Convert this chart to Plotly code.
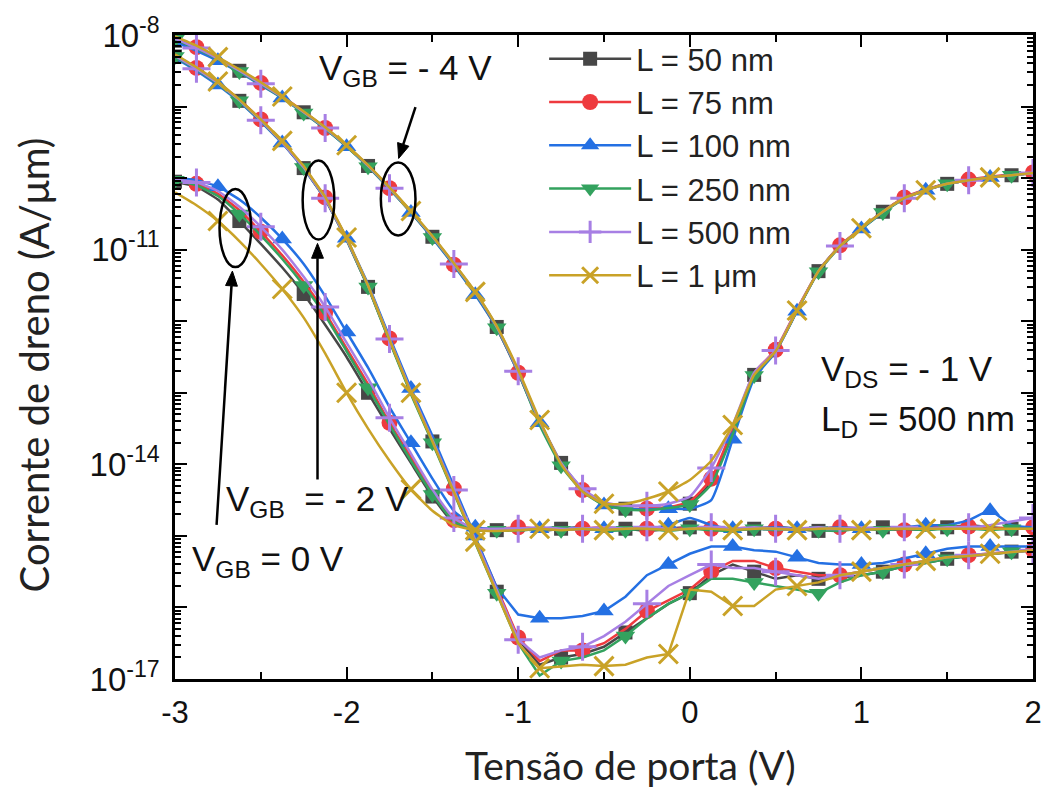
import math
import plotly.graph_objects as go

# ---------------- data (log10 of drain current, A/um) ----------------
X = [-3.0, -2.875, -2.75, -2.625, -2.5, -2.375, -2.25, -2.125, -2.0, -1.875, -1.75,
     -1.625, -1.5, -1.375, -1.25, -1.125, -1.0, -0.875, -0.75, -0.625, -0.5, -0.375,
     -0.25, -0.125, 0.0, 0.125, 0.25, 0.375, 0.5, 0.625, 0.75, 0.875, 1.0, 1.125,
     1.25, 1.375, 1.5, 1.625, 1.75, 1.875, 2.0]

LABELS = ["L = 50 nm", "L = 75 nm", "L = 100 nm", "L = 250 nm", "L = 500 nm", "L = 1 \u03bcm"]

# V_GB = -4 V
A_50 = [-8.08,-8.2,-8.34,-8.5,-8.68,-8.87,-9.08,-9.3,-9.55,-9.83,-10.14,-10.47,-10.82,-11.2,-11.6,-12.08,-12.7,
        -13.4,-13.98,-14.35,-14.55,-14.62,-14.63,-14.6,-14.55,-14.25,-13.55,
        -12.75,-12.42,-11.85,-11.3,-10.95,-10.7,-10.47,-10.28,-10.17,-10.08,-10.03,-9.99,-9.96,-9.93]
A_75 = [-8.03,-8.17,-8.32,-8.49,-8.67,-8.86,-9.07,-9.3,-9.55,-9.83,-10.14,-10.48,-10.83,-11.21,-11.62,-12.1,-12.72,
        -13.42,-14.0,-14.36,-14.56,-14.62,-14.62,-14.6,-14.52,-14.2,-13.5,
        -12.72,-12.4,-11.83,-11.3,-10.94,-10.7,-10.47,-10.27,-10.16,-10.07,-10.02,-9.98,-9.95,-9.92]
A_100 = [-8.1,-8.22,-8.36,-8.52,-8.7,-8.88,-9.09,-9.31,-9.56,-9.84,-10.15,-10.48,-10.84,-11.22,-11.63,-12.1,-12.72,
         -13.42,-14.0,-14.37,-14.57,-14.62,-14.63,-14.62,-14.62,-14.5,-13.65,
         -12.8,-12.43,-11.86,-11.3,-10.95,-10.71,-10.48,-10.28,-10.17,-10.08,-10.03,-9.99,-9.96,-9.93]
A_250 = [-8.06,-8.19,-8.34,-8.51,-8.69,-8.88,-9.09,-9.31,-9.56,-9.84,-10.15,-10.48,-10.83,-11.21,-11.61,-12.09,-12.71,
         -13.45,-14.02,-14.38,-14.57,-14.63,-14.64,-14.61,-14.56,-14.28,-13.58,
         -12.76,-12.42,-11.85,-11.31,-10.96,-10.71,-10.48,-10.29,-10.17,-10.08,-10.03,-9.99,-9.96,-9.93]
A_500 = [-8.05,-8.18,-8.33,-8.5,-8.68,-8.87,-9.08,-9.3,-9.55,-9.83,-10.14,-10.47,-10.82,-11.2,-11.6,-12.08,-12.7,
         -13.4,-13.98,-14.34,-14.53,-14.58,-14.58,-14.55,-14.45,-14.05,-13.45,
         -12.72,-12.41,-11.84,-11.3,-10.95,-10.7,-10.47,-10.28,-10.17,-10.08,-10.03,-9.99,-9.96,-9.93]
A_1um = [-8.02,-8.15,-8.31,-8.48,-8.66,-8.86,-9.07,-9.29,-9.54,-9.82,-10.13,-10.46,-10.81,-11.19,-11.59,-12.07,-12.68,
         -13.38,-14.0,-14.38,-14.55,-14.55,-14.48,-14.38,-14.22,-13.95,-13.45,
         -12.75,-12.42,-11.85,-11.3,-10.95,-10.7,-10.47,-10.28,-10.17,-10.08,-10.03,-9.99,-9.96,-9.93]

# V_GB = -2 V
B_50 = [-8.3,-8.48,-8.68,-8.92,-9.2,-9.5,-9.86,-10.29,-10.86,-11.52,-12.27,-13.0,-13.68,-14.38,-15.08,-15.78,-16.45,
        -16.8,-16.7,-16.65,-16.55,-16.35,-16.15,-15.95,-15.8,-15.55,-15.4,-15.5,-15.6,-15.55,-15.6,-15.58,-15.55,
        -15.5,-15.42,-15.38,-15.32,-15.28,-15.25,-15.22,-15.2]
B_75 = [-8.28,-8.46,-8.66,-8.9,-9.18,-9.49,-9.84,-10.27,-10.84,-11.5,-12.24,-12.97,-13.64,-14.34,-15.04,-15.74,-16.42,
        -16.75,-16.6,-16.6,-16.5,-16.3,-16.05,-15.9,-15.75,-15.5,-15.35,-15.35,-15.45,-15.5,-15.55,-15.55,-15.5,
        -15.45,-15.4,-15.35,-15.3,-15.27,-15.25,-15.22,-15.2]
B_100 = [-8.32,-8.5,-8.7,-8.93,-9.21,-9.51,-9.86,-10.28,-10.84,-11.48,-12.22,-12.94,-13.6,-14.3,-15.0,-15.72,-16.1,
         -16.15,-16.15,-16.12,-16.05,-15.85,-15.55,-15.4,-15.25,-15.15,-15.15,-15.2,-15.22,-15.3,-15.38,-15.4,-15.4,
         -15.38,-15.32,-15.25,-15.18,-15.15,-15.15,-15.15,-15.15]
B_250 = [-8.3,-8.48,-8.68,-8.92,-9.2,-9.5,-9.85,-10.28,-10.86,-11.52,-12.28,-13.02,-13.7,-14.4,-15.1,-15.8,-16.5,
         -16.95,-16.75,-16.7,-16.6,-16.4,-16.15,-15.95,-15.8,-15.6,-15.6,-15.65,-15.7,-15.75,-15.8,-15.65,-15.55,
         -15.5,-15.42,-15.38,-15.32,-15.28,-15.25,-15.22,-15.2]
B_500 = [-8.29,-8.47,-8.67,-8.91,-9.19,-9.5,-9.85,-10.28,-10.85,-11.5,-12.25,-12.98,-13.66,-14.36,-15.06,-15.76,-16.45,
         -16.7,-16.6,-16.55,-16.4,-16.2,-15.95,-15.7,-15.55,-15.4,-15.45,-15.45,-15.5,-15.55,-15.6,-15.55,-15.5,
         -15.45,-15.4,-15.35,-15.3,-15.27,-15.25,-15.22,-15.2]
B_1um = [-8.27,-8.45,-8.65,-8.9,-9.18,-9.48,-9.83,-10.26,-10.83,-11.5,-12.26,-13.0,-13.68,-14.38,-15.08,-15.8,-16.5,
         -16.85,-16.82,-16.8,-16.82,-16.8,-16.7,-16.65,-15.75,-15.78,-15.98,-15.98,-15.75,-15.7,-15.65,-15.55,-15.5,
         -15.45,-15.4,-15.35,-15.3,-15.28,-15.25,-15.22,-15.2]

# V_GB = 0 V
C_50 = [-10.05,-10.12,-10.3,-10.6,-10.92,-11.25,-11.62,-12.05,-12.5,-13.0,-13.5,-13.98,-14.45,-14.82,-14.92,
        -14.92,-14.9,-14.93,-14.9,-14.88,-14.92,-14.9,-14.93,-14.9,-14.88,-14.9,-14.92,-14.9,-14.88,-14.9,-14.93,
        -14.9,-14.9,-14.88,-14.9,-14.92,-14.88,-14.85,-14.88,-14.9,-14.88]
C_75 = [-10.03,-10.08,-10.22,-10.45,-10.75,-11.08,-11.45,-11.88,-12.38,-12.88,-13.42,-13.9,-14.4,-14.78,-14.9,
        -14.9,-14.88,-14.9,-14.92,-14.9,-14.88,-14.9,-14.9,-14.92,-14.88,-14.9,-14.9,-14.88,-14.9,-14.92,-14.9,
        -14.88,-14.9,-14.9,-14.92,-14.88,-14.88,-14.87,-14.9,-14.88,-14.88]
C_100 = [-10.0,-10.03,-10.12,-10.3,-10.55,-10.85,-11.2,-11.65,-12.15,-12.65,-13.2,-13.7,-14.2,-14.65,-14.88,
         -14.9,-14.92,-14.9,-14.88,-14.9,-14.9,-14.88,-14.9,-14.85,-14.75,-14.85,-14.9,-14.9,-14.88,-14.9,-14.9,
         -14.88,-14.9,-14.9,-14.88,-14.85,-14.85,-14.78,-14.65,-14.85,-14.88]
C_250 = [-10.03,-10.1,-10.25,-10.5,-10.8,-11.13,-11.5,-11.92,-12.42,-12.93,-13.45,-13.95,-14.42,-14.8,-14.92,
         -14.92,-14.93,-14.9,-14.92,-14.9,-14.93,-14.92,-14.9,-14.93,-14.9,-14.92,-14.93,-14.9,-14.92,-14.9,-14.92,
         -14.93,-14.9,-14.92,-14.9,-14.92,-14.9,-14.9,-14.92,-14.9,-14.9]
C_500 = [-10.02,-10.06,-10.18,-10.4,-10.68,-11.0,-11.38,-11.8,-12.3,-12.8,-13.35,-13.85,-14.35,-14.75,-14.9,
         -14.9,-14.9,-14.88,-14.9,-14.9,-14.88,-14.9,-14.88,-14.9,-14.9,-14.88,-14.9,-14.88,-14.9,-14.9,-14.88,
         -14.9,-14.88,-14.9,-14.88,-14.9,-14.88,-14.88,-14.85,-14.8,-14.75]
C_1um = [-10.2,-10.38,-10.6,-10.88,-11.2,-11.55,-11.95,-12.45,-13.0,-13.5,-13.95,-14.35,-14.65,-14.85,-14.92,
         -14.93,-14.92,-14.9,-14.92,-14.9,-14.92,-14.9,-14.9,-14.92,-14.9,-14.9,-14.92,-14.9,-14.9,-14.92,-14.9,
         -14.9,-14.92,-14.9,-14.9,-14.9,-14.9,-14.9,-14.9,-14.9,-14.9]

CURVES = {
    LABELS[0]: [A_50, B_50, C_50],
    LABELS[1]: [A_75, B_75, C_75],
    LABELS[2]: [A_100, B_100, C_100],
    LABELS[3]: [A_250, B_250, C_250],
    LABELS[4]: [A_500, B_500, C_500],
    LABELS[5]: [A_1um, B_1um, C_1um],
}
for k, v in CURVES.items():
    for arr in v:
        assert len(arr) == len(X), (k, len(arr))

# ---------------- styles ----------------
COLORS = ["#474747", "#ee3a3e", "#2470e3", "#33a25e", "#a77fe4", "#c9a227"]
SYMBOLS = ["square", "circle", "triangle-up", "triangle-down", "cross-thin", "x-thin"]
MSIZE = [14, 16, 17, 17, 20, 19]
SHAPES_BY_CURVE = ["spline", "linear", "spline"]
ARIAL = "Liberation Sans, Arial, sans-serif"
TITLEF = "Lato, Open Sans, sans-serif"

L0, R0, T0, B0 = 175, 1042, 27, 679


def PX(px):
    return (px - L0) / (R0 - L0)


def PY(py):
    return (B0 - py) / (B0 - T0)


def marker_style(i):
    m = dict(symbol=SYMBOLS[i], size=MSIZE[i], color=COLORS[i])
    if SYMBOLS[i].endswith("thin"):
        m["line"] = dict(color=COLORS[i], width=3)
    else:
        m["line"] = dict(width=0)
    return m


fig = go.Figure()
STEP = 3
for i, lab in enumerate(LABELS):
    for c, arr in enumerate(CURVES[lab]):
        ys = [10 ** v for v in arr]
        shp = SHAPES_BY_CURVE[c]
        line = dict(color=COLORS[i], width=2.5, shape=shp)
        if shp == "spline":
            line["smoothing"] = 0.5
        fig.add_trace(go.Scatter(x=X, y=ys, mode="lines", showlegend=False, line=line,
                                 hoverinfo="skip"))
        idx = list(range(i % STEP, len(X), STEP))
        fig.add_trace(go.Scatter(x=[X[j] for j in idx], y=[ys[j] for j in idx], mode="markers",
                                 showlegend=False, marker=marker_style(i), hoverinfo="skip"))
    # legend entry (no data, legend only)
    fig.add_trace(go.Scatter(x=[None], y=[None], mode="lines+markers", name=lab, legendgroup=lab,
                             line=dict(color=COLORS[i], width=2.5), marker=marker_style(i),
                             yaxis="y2"))

# ---------------- axes ----------------
LABELED = [-17, -14, -11, -8]
ytickvals = [10.0 ** d for d in LABELED]
ytext = ["10<sup>%d</sup>" % d for d in LABELED]
alldec = [10.0 ** d for d in range(-17, -7)]
yminor = [m * 10.0 ** d for d in range(-17, -8) for m in range(2, 10)]

fig.update_xaxes(range=[-3, 2], tickvals=[-3, -2, -1, 0, 1, 2], ticktext=["-3", "-2", "-1", "0", "1", "2"],
                 ticks="inside", ticklen=12, tickwidth=2, tickcolor="black",
                 minor=dict(dtick=0.5, ticks="inside", ticklen=7, tickwidth=2, tickcolor="black"),
                 showline=True, linewidth=2.5, linecolor="black", mirror="ticks",
                 showgrid=False, zeroline=False,
                 tickfont=dict(family=ARIAL, size=31, color="#111"), ticklabelstandoff=4)
fig.update_layout(
    yaxis=dict(type="log", range=[-17, -8], tickvals=ytickvals, ticktext=ytext,
               ticks="inside", ticklen=12, tickwidth=2, tickcolor="black",
               minor=dict(tickvals=yminor, ticks="inside", ticklen=6, tickwidth=1.5, tickcolor="black"),
               showline=True, linewidth=2.5, linecolor="black", mirror="ticks",
               showgrid=False, zeroline=False,
               tickfont=dict(family=ARIAL, size=33, color="#111"), ticklabelstandoff=6),
    yaxis2=dict(type="log", range=[-17, -8], overlaying="y", side="left", tickvals=alldec,
                showticklabels=False, ticks="inside", ticklen=12, tickwidth=2, tickcolor="black",
                mirror="ticks", showline=False, showgrid=False, zeroline=False),
)

# ---------------- annotations ----------------
ann = []


def text(t, left, cy, size=35):
    ann.append(dict(text=t, x=PX(left), y=PY(cy), xref="paper", yref="paper", xanchor="left",
                    yanchor="middle", showarrow=False, font=dict(family=ARIAL, size=size, color="#111")))


text("V<sub>GB</sub> = - 4 V", 318, 62)
text("V<sub>GB</sub>\u00a0 = - 2 V", 225, 499)
text("V<sub>GB</sub> = 0 V", 190, 560)
text("V<sub>DS</sub> = - 1 V", 826, 367)
text("L<sub>D</sub> = 500 nm", 826, 418)

# axis titles
ann.append(dict(text="Tens\u00e3o de porta (V)", x=PX(635), y=PY(766), xref="paper", yref="paper",
                showarrow=False, xanchor="center", yanchor="middle",
                font=dict(family=TITLEF, size=39, color="#222")))
ann.append(dict(text="Corrente de dreno (A/\u03bcm)", x=PX(32), y=PY(361), xref="paper", yref="paper",
                showarrow=False, xanchor="center", yanchor="middle", textangle=-90,
                font=dict(family=TITLEF, size=40, color="#222")))

shapes = []
for (x0, y0, x1, y1) in [(383, 156, 418, 230), (304, 154, 336, 234), (220, 183, 252, 262)]:
    shapes.append(dict(type="circle", xref="paper", yref="paper", x0=PX(x0), x1=PX(x1),
                       y0=PY(y1), y1=PY(y0), line=dict(color="black", width=2.5)))


def arrow(tipx, tipy, tailx, taily, head=15, half=6):
    dx, dy = tipx - tailx, tipy - taily
    n = math.hypot(dx, dy)
    ux, uy = dx / n, dy / n
    bx, by = tipx - ux * head, tipy - uy * head
    shapes.append(dict(type="line", xref="paper", yref="paper", x0=PX(tailx), y0=PY(taily),
                       x1=PX(bx), y1=PY(by), line=dict(color="black", width=2.5)))
    pts = [(tipx, tipy), (bx - uy * half, by + ux * half), (bx + uy * half, by - ux * half)]
    path = "M %f %f L %f %f L %f %f Z" % tuple(v for p in pts for v in (PX(p[0]), PY(p[1])))
    shapes.append(dict(type="path", xref="paper", yref="paper", path=path,
                       fillcolor="black", line=dict(color="black", width=1)))


arrow(401, 152, 418, 100)
arrow(319, 238, 319, 477)
arrow(233, 266, 217, 523)

fig.update_layout(
    width=1054, height=792,
    margin=dict(l=L0, r=1054 - R0, t=T0, b=792 - B0),
    paper_bgcolor="white", plot_bgcolor="white",
    annotations=ann, shapes=shapes,
    legend=dict(x=PX(548), y=PY(24), xanchor="left", yanchor="top",
                font=dict(family=ARIAL, size=31, color="#222"),
                bgcolor="rgba(0,0,0,0)", itemwidth=82, tracegroupgap=0, traceorder="grouped"),
)

fig.write_html("out.html")
